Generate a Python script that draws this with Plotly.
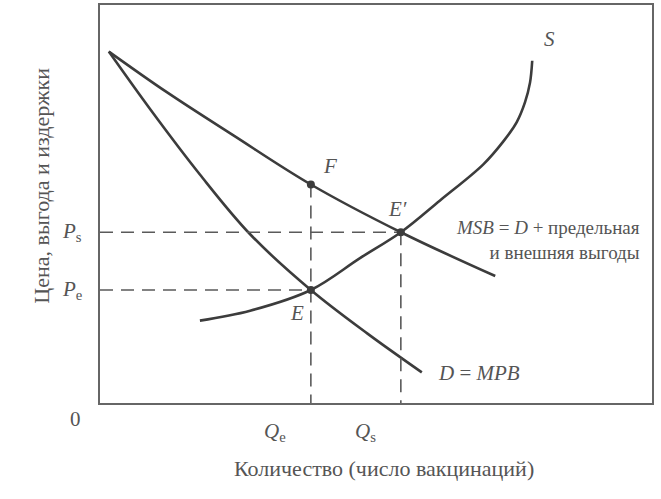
import plotly.graph_objects as go

# Curves (arbitrary units, x: quantity 0-100, y: price 0-100)
msb_x = [1.6, 12.1, 24.1, 38.2, 54.5, 71.6]
msb_y = [88.3, 78.1, 67.3, 54.9, 42.9, 31.9]

d_x = [1.6, 9.1, 18.1, 27.2, 38.2, 48.4, 58.3]
d_y = [88.3, 73.8, 57.4, 42.4, 28.4, 17.5, 7.7]

s_x = [18.1, 27.2, 38.2, 47.1, 54.5, 61.6, 69.4, 73.0, 75.5, 77.0, 77.9, 78.3]
s_y = [20.7, 23.2, 28.4, 36.4, 42.9, 50.9, 59.9, 65.6, 70.6, 75.6, 80.5, 86.0]

# Key points
q_e, p_e = 38.2, 28.4   # E
q_s, p_s = 54.5, 42.9   # E'
f_y = 54.9              # F (at q_e on MSB)

point_x = [q_e, q_s, q_e]
point_y = [p_e, p_s, f_y]

curve_color = "#3c3c3c"
text_color = "#555555"
dash_color = "#5a5a5a"
font_family = "Liberation Serif, Times New Roman, serif"

fig = go.Figure()

line_style = dict(color=curve_color, width=2.6, shape="spline", smoothing=1.0)
fig.add_trace(go.Scatter(x=msb_x, y=msb_y, mode="lines", line=line_style, hoverinfo="skip"))
fig.add_trace(go.Scatter(x=d_x, y=d_y, mode="lines", line=line_style, hoverinfo="skip"))
fig.add_trace(go.Scatter(x=s_x, y=s_y, mode="lines", line=line_style, hoverinfo="skip"))

dash = dict(color=dash_color, width=1.6, dash="13px,8px")
# horizontal dashed lines
fig.add_trace(go.Scatter(x=[0, q_s], y=[p_s, p_s], mode="lines", line=dash, hoverinfo="skip"))
fig.add_trace(go.Scatter(x=[0, q_e], y=[p_e, p_e], mode="lines", line=dash, hoverinfo="skip"))
# vertical dashed lines
fig.add_trace(go.Scatter(x=[q_e, q_e], y=[f_y, 0], mode="lines", line=dash, hoverinfo="skip"))
fig.add_trace(go.Scatter(x=[q_s, q_s], y=[p_s, 0], mode="lines", line=dash, hoverinfo="skip"))

fig.add_trace(go.Scatter(x=point_x, y=point_y, mode="markers",
                         marker=dict(color=curve_color, size=8), hoverinfo="skip"))

lab = dict(family=font_family, size=21, color=text_color)
small = dict(family=font_family, size=19, color=text_color)

ann = []
# point labels
ann.append(dict(x=q_e, y=f_y, text="<i>F</i>", xshift=19, yshift=19, showarrow=False, font=lab))
ann.append(dict(x=q_s, y=p_s, text="<i>E′</i>", xshift=-3, yshift=23, showarrow=False, font=lab))
ann.append(dict(x=q_e, y=p_e, text="<i>E</i>", xshift=-14, yshift=-23, showarrow=False, font=lab))
ann.append(dict(x=s_x[-1], y=s_y[-1], text="<i>S</i>", xshift=17, yshift=22, showarrow=False, font=lab))
ann.append(dict(x=d_x[-1], y=d_y[-1], text="<i>D</i> = <i>MPB</i>", xanchor="left", xshift=14,
                yshift=-1, showarrow=False, font=lab))
ann.append(dict(x=98.2, y=p_s, text="<i>MSB</i> = <i>D</i> + предельная<br>и внешняя выгоды",
                xanchor="right", align="right", yanchor="middle", yshift=-8,
                showarrow=False, font=small))
# axis labels (P, Q, 0)
ann.append(dict(x=0, xref="paper", y=p_s, text="<i>P</i><sub>s</sub>", xanchor="center",
                yanchor="middle", xshift=-28, showarrow=False, font=lab))
ann.append(dict(x=0, xref="paper", y=p_e, text="<i>P</i><sub>e</sub>", xanchor="center",
                yanchor="middle", xshift=-28, showarrow=False, font=lab))
ann.append(dict(x=0, xref="paper", y=0, yref="paper", text="0", xanchor="center", yanchor="middle",
                xshift=-25, yshift=-16, showarrow=False, font=lab))
ann.append(dict(x=q_e, y=0, yref="paper", text="<i>Q</i><sub>e</sub>", xanchor="center",
                yanchor="middle", xshift=-36, yshift=-29, showarrow=False, font=lab))
ann.append(dict(x=q_s, y=0, yref="paper", text="<i>Q</i><sub>s</sub>", xanchor="center",
                yanchor="middle", xshift=-35, yshift=-29, showarrow=False, font=lab))
# axis titles
ann.append(dict(x=0.0125, xref="paper", y=0, yref="paper", text="Количество (число вакцинаций)",
                yshift=-65, showarrow=False, xanchor="left", yanchor="middle",
                xshift=125, font=dict(family=font_family, size=22, color=text_color)))
ann.append(dict(x=0, xref="paper", y=0.546, yref="paper", text="Цена, выгода и издержки",
                textangle=-90, xanchor="center", yanchor="middle", xshift=-58, showarrow=False,
                font=dict(family=font_family, size=22, color=text_color)))

fig.update_layout(
    width=661, height=499,
    margin=dict(l=100, r=9, t=3, b=96),
    paper_bgcolor="white", plot_bgcolor="white",
    showlegend=False,
    annotations=ann,
)
axis_common = dict(showgrid=False, zeroline=False, showticklabels=False, ticks="",
                   showline=True, linecolor="#666666", linewidth=1.5, mirror=True,
                   fixedrange=True)
fig.update_xaxes(range=[0, 100], **axis_common)
fig.update_yaxes(range=[0, 100], **axis_common)

fig.write_html("out.html", config={"displayModeBar": False},
               post_script="document.body.style.margin='0px';")
